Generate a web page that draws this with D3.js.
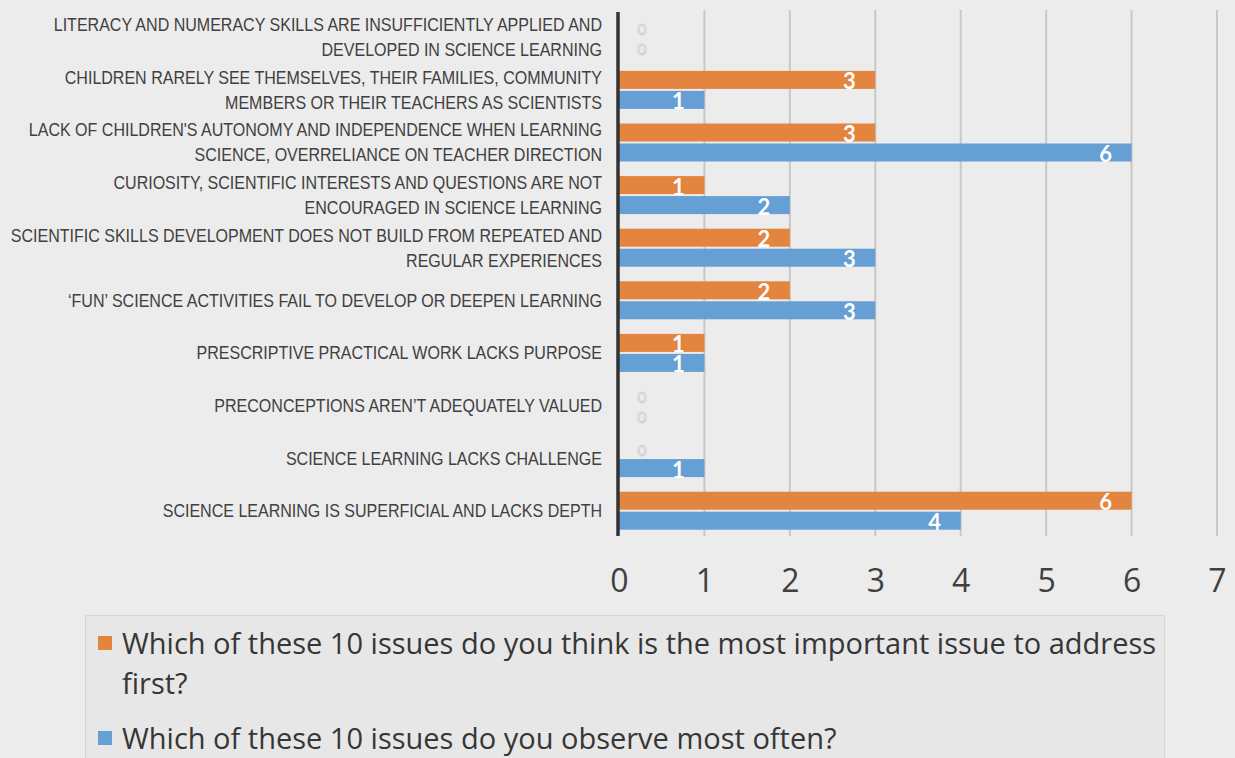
<!DOCTYPE html>
<html>
<head>
<meta charset="utf-8">
<script src="https://cdn.jsdelivr.net/npm/d3@7"></script>
<style>
  html, body { margin: 0; padding: 0; background: #ececec; }
  svg { display: block; }
</style>
</head>
<body>
<div id="chart"></div>
<script>
// categories, top to bottom (each label split in lines)
var categories = [
    ["LITERACY AND NUMERACY SKILLS ARE INSUFFICIENTLY APPLIED AND", "DEVELOPED IN SCIENCE LEARNING"],
    ["CHILDREN RARELY SEE THEMSELVES, THEIR FAMILIES, COMMUNITY", "MEMBERS OR THEIR TEACHERS AS SCIENTISTS"],
    ["LACK OF CHILDREN'S AUTONOMY AND INDEPENDENCE WHEN LEARNING", "SCIENCE, OVERRELIANCE ON TEACHER DIRECTION"],
    ["CURIOSITY, SCIENTIFIC INTERESTS AND QUESTIONS ARE NOT", "ENCOURAGED IN SCIENCE LEARNING"],
    ["SCIENTIFIC SKILLS DEVELOPMENT DOES NOT BUILD FROM REPEATED AND", "REGULAR EXPERIENCES"],
    ["\u2018FUN\u2019 SCIENCE ACTIVITIES FAIL TO DEVELOP OR DEEPEN LEARNING"],
    ["PRESCRIPTIVE PRACTICAL WORK LACKS PURPOSE"],
    ["PRECONCEPTIONS AREN\u2019T ADEQUATELY VALUED"],
    ["SCIENCE LEARNING LACKS CHALLENGE"],
    ["SCIENCE LEARNING IS SUPERFICIAL AND LACKS DEPTH"]
];
var mostImportant = [0, 3, 3, 1, 2, 2, 1, 0, 0, 6];
var observedOften = [0, 1, 6, 2, 3, 3, 1, 0, 1, 4];
var seriesNames = [
    "Which of these 10 issues do you think is the most important issue to address first?",
    "Which of these 10 issues do you observe most often?"
];
var legendLines = [
    ["Which of these 10 issues do you think is the most important issue to address", "first?"],
    ["Which of these 10 issues do you observe most often?"]
];
var xTicks = [0, 1, 2, 3, 4, 5, 6, 7];

var width = 1235;
var height = 758;
var colors = ["#e3843f", "#659fd4"];
var sans = "'Open Sans', sans-serif";

var svg = d3.select("#chart")
    .append("svg")
    .attr("width", width)
    .attr("height", height);

var x = d3.scaleLinear()
    .domain([0, 7])
    .range([619, 1217]);

var y = d3.scaleBand()
    .domain(d3.range(categories.length))
    .range([11, 537]);

var ySub = d3.scaleBand()
    .domain([0, 1])
    .range([7.3, y.bandwidth() - 7.3])
    .paddingInner(0.1);

// gridlines
svg.append("g")
    .selectAll("line")
    .data(xTicks.slice(1))
    .enter().append("line")
    .attr("x1", function (d) { return x(d); })
    .attr("x2", function (d) { return x(d); })
    .attr("y1", 10)
    .attr("y2", 536)
    .attr("stroke", "#c8c8c8")
    .attr("stroke-width", 2);

// x axis labels
var xAxis = d3.axisBottom(x)
    .tickValues(xTicks)
    .tickSize(0)
    .tickPadding(0)
    .tickFormat(d3.format("d"));

var axisG = svg.append("g")
    .attr("transform", "translate(0,536)")
    .call(xAxis);
axisG.select(".domain").remove();
axisG.selectAll("text")
    .attr("dy", null)
    .attr("y", 43)
    .attr("dominant-baseline", "central")
    .attr("fill", "#404040")
    .style("font-family", sans)
    .style("font-size", "32px");

// rows
var seriesData = [mostImportant, observedOften];
var squeeze = 0.867; // condensed look of the original label font

var rows = svg.append("g")
    .selectAll(".row")
    .data(categories)
    .enter().append("g")
    .attr("class", "row")
    .attr("transform", function (d, i) { return "translate(0," + y(i) + ")"; });

rows.each(function (lines, i) {
    var g = d3.select(this);
    var c = y.bandwidth() / 2;
    lines.forEach(function (line, k) {
        g.append("text")
            .attr("transform", "translate(602," + (c + (k - (lines.length - 1) / 2) * 25) + ") scale(" + squeeze + ",1)")
            .attr("text-anchor", "end")
            .attr("dominant-baseline", "central")
            .attr("fill", "#404040")
            .style("font-family", "'Liberation Sans', Arial, sans-serif")
            .style("font-size", "18.5px")
            .text(line);
    });

    seriesData.forEach(function (vals, s) {
        var v = vals[i];
        var by = ySub(s);
        var bh = ySub.bandwidth();
        if (v > 0) {
            g.append("rect")
                .attr("x", x(0))
                .attr("y", by)
                .attr("width", x(v) - x(0))
                .attr("height", bh)
                .attr("fill", colors[s]);
        }
        g.append("text")
            .attr("x", v > 0 ? x(v) - 26 : x(0) + 23)
            .attr("y", by + bh / 2 + 1)
            .attr("text-anchor", "middle")
            .attr("dominant-baseline", "central")
            .attr("fill", "#ffffff")
            .attr("stroke", v > 0 ? "none" : "#b8b8b8")
            .attr("stroke-width", 0.6)
            .style("font-family", "Lato, " + sans)
            .style("font-weight", v > 0 ? "bold" : "normal")
            .style("font-size", v > 0 ? "22px" : "16px")
            .text(v);
    });
});

// category axis line
svg.append("line")
    .attr("x1", x(0) - 1)
    .attr("x2", x(0) - 1)
    .attr("y1", 12)
    .attr("y2", 536)
    .attr("stroke", "#333333")
    .attr("stroke-width", 3.5);

// legend
var legend = svg.append("g");
legend.append("rect")
    .attr("x", 85.5)
    .attr("y", 615.5)
    .attr("width", 1079)
    .attr("height", 160)
    .attr("fill", "#e7e7e7")
    .attr("stroke", "#d6d6d6");

var legendY = [642, 737];
seriesNames.forEach(function (name, s) {
    var item = legend.append("g");
    item.append("title").text(name);
    item.append("rect")
        .attr("x", 98)
        .attr("y", legendY[s] - 6)
        .attr("width", 14)
        .attr("height", 14)
        .attr("fill", colors[s]);
    var t = item.append("text")
        .attr("fill", "#363636")
        .style("font-family", sans)
        .style("font-size", "29px");
    legendLines[s].forEach(function (line, k) {
        t.append("tspan")
            .attr("x", 122)
            .attr("y", legendY[s] + k * 40)
            .attr("dominant-baseline", "central")
            .text(line);
    });
});
</script>
</body>
</html>
